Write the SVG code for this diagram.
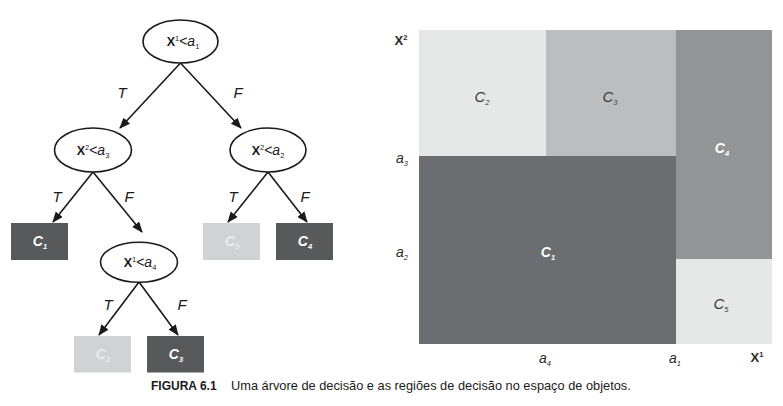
<svg xmlns="http://www.w3.org/2000/svg" width="783" height="406" viewBox="0 0 783 406">
<defs>
<marker id="arr" markerUnits="userSpaceOnUse" markerWidth="11" markerHeight="10" refX="10" refY="4.5" orient="auto">
<path d="M0,0 L11,4.5 L0,9 z" fill="#1a1a1a"/>
</marker>
<style>
text{font-family:"Liberation Sans",Arial,sans-serif;}
.node ellipse{fill:#fff;stroke:#1a1a1a;stroke-width:1.6;}
.lbl{font-size:14px;fill:#1a1a1a;text-anchor:middle;}
.b{font-weight:bold;font-size:12.5px;}
.i{font-style:italic;}
.sub{font-size:7.5px;}
.edge line{stroke:#1a1a1a;stroke-width:1.6;marker-end:url(#arr);}
.tf{font-size:15px;font-style:italic;fill:#1a1a1a;text-anchor:middle;}
.dark{fill:#58595b;}
.light{fill:#d1d2d3;}
.cw{font-size:14px;font-weight:bold;font-style:italic;fill:#fff;text-anchor:middle;}
.cl{font-size:14px;font-weight:bold;font-style:italic;fill:#ececec;text-anchor:middle;}
.rc{font-size:15px;font-style:italic;fill:#3a3a3a;text-anchor:middle;}
.ax{font-size:14px;font-style:italic;fill:#2a2a2a;text-anchor:middle;}
.axb{font-size:13px;font-weight:bold;fill:#2a2a2a;text-anchor:middle;}
</style>
</defs>
<rect width="783" height="406" fill="#fff"/>

<g id="connectors" class="edge">
<line x1="180.5" y1="63" x2="120" y2="128"/>
<line x1="180.5" y1="63" x2="241" y2="128"/>
<line x1="93" y1="172" x2="53" y2="222"/>
<line x1="93" y1="172" x2="142" y2="232"/>
<line x1="268" y1="172" x2="228" y2="222"/>
<line x1="268" y1="172" x2="307" y2="222"/>
<line x1="139" y1="282" x2="99" y2="335"/>
<line x1="139" y1="282" x2="178" y2="335"/>
</g>

<g id="edge-labels">
<text class="tf" x="122" y="98">T</text>
<text class="tf" x="238" y="98">F</text>
<text class="tf" x="57" y="202">T</text>
<text class="tf" x="129" y="202">F</text>
<text class="tf" x="233" y="202">T</text>
<text class="tf" x="305" y="202">F</text>
<text class="tf" x="108" y="310">T</text>
<text class="tf" x="182" y="310">F</text>
</g>

<g id="n-root" class="node">
<ellipse cx="180.5" cy="41.5" rx="37.5" ry="21.5"/>
<text class="lbl" x="183" y="46"><tspan class="b">X</tspan><tspan class="sub" dy="-5">1</tspan><tspan dy="5">&lt;</tspan><tspan class="i">a</tspan><tspan class="sub" dy="3">1</tspan></text>
</g>
<g id="n-left" class="node">
<ellipse cx="93" cy="150" rx="38.5" ry="22"/>
<text class="lbl" x="93" y="155"><tspan class="b">X</tspan><tspan class="sub" dy="-5">2</tspan><tspan dy="5">&lt;</tspan><tspan class="i">a</tspan><tspan class="sub" dy="3">3</tspan></text>
</g>
<g id="n-right" class="node">
<ellipse cx="268" cy="150" rx="38" ry="22"/>
<text class="lbl" x="268" y="155"><tspan class="b">X</tspan><tspan class="sub" dy="-5">2</tspan><tspan dy="5">&lt;</tspan><tspan class="i">a</tspan><tspan class="sub" dy="3">2</tspan></text>
</g>
<g id="n-x1a4" class="node">
<ellipse cx="139" cy="262.3" rx="38.5" ry="20"/>
<text class="lbl" x="140" y="267"><tspan class="b">X</tspan><tspan class="sub" dy="-5">1</tspan><tspan dy="5">&lt;</tspan><tspan class="i">a</tspan><tspan class="sub" dy="3">4</tspan></text>
</g>

<g id="leaf-c1">
<rect class="dark" x="11" y="223" width="57" height="37"/>
<text class="cw" x="40" y="246">C<tspan class="sub" dy="3">1</tspan></text>
</g>
<g id="leaf-c5">
<rect class="light" x="203" y="223" width="57" height="37"/>
<text class="cl" x="232" y="246">C<tspan class="sub" dy="3">5</tspan></text>
</g>
<g id="leaf-c4">
<rect class="dark" x="276" y="223" width="57" height="37"/>
<text class="cw" x="305" y="246">C<tspan class="sub" dy="3">4</tspan></text>
</g>
<g id="leaf-c2">
<rect class="light" x="74" y="336" width="57" height="36.5"/>
<text class="cl" x="103" y="359">C<tspan class="sub" dy="3">2</tspan></text>
</g>
<g id="leaf-c3">
<rect class="dark" x="147" y="336" width="57" height="36.5"/>
<text class="cw" x="176" y="359">C<tspan class="sub" dy="3">3</tspan></text>
</g>

<g id="regions">
<rect x="419" y="30" width="127" height="126" fill="#e6e7e7"/>
<rect x="546" y="30" width="130" height="126" fill="#bcbdbf"/>
<rect x="676" y="30" width="96" height="229" fill="#939496"/>
<rect x="676" y="259" width="96" height="85" fill="#e6e7e7"/>
<rect x="419" y="156" width="257" height="188" fill="#6c6d71"/>
<text class="rc" x="482" y="102">C<tspan class="sub" dy="3">2</tspan></text>
<text class="rc" x="610" y="102">C<tspan class="sub" dy="3">3</tspan></text>
<text class="cw" x="722" y="153">C<tspan class="sub" dy="3">4</tspan></text>
<text class="cw" x="548" y="257">C<tspan class="sub" dy="3">1</tspan></text>
<text class="rc" x="721" y="309">C<tspan class="sub" dy="3">5</tspan></text>
</g>

<g id="axis-labels">
<text class="axb" x="401" y="45">X<tspan class="sub" dy="-5">2</tspan></text>
<text class="ax" x="402" y="163">a<tspan class="sub" dy="3">3</tspan></text>
<text class="ax" x="402" y="257">a<tspan class="sub" dy="3">2</tspan></text>
<text class="ax" x="545" y="363">a<tspan class="sub" dy="3">4</tspan></text>
<text class="ax" x="675" y="363">a<tspan class="sub" dy="3">1</tspan></text>
<text class="axb" x="757" y="362">X<tspan class="sub" dy="-5">1</tspan></text>
</g>

<g id="caption">
<text x="151" y="390" font-size="12" font-weight="bold" fill="#1a1a1a">FIGURA 6.1</text>
<text x="231" y="390" font-size="12.8" fill="#1a1a1a">Uma árvore de decisão e as regiões de decisão no espaço de objetos.</text>
</g>
</svg>
